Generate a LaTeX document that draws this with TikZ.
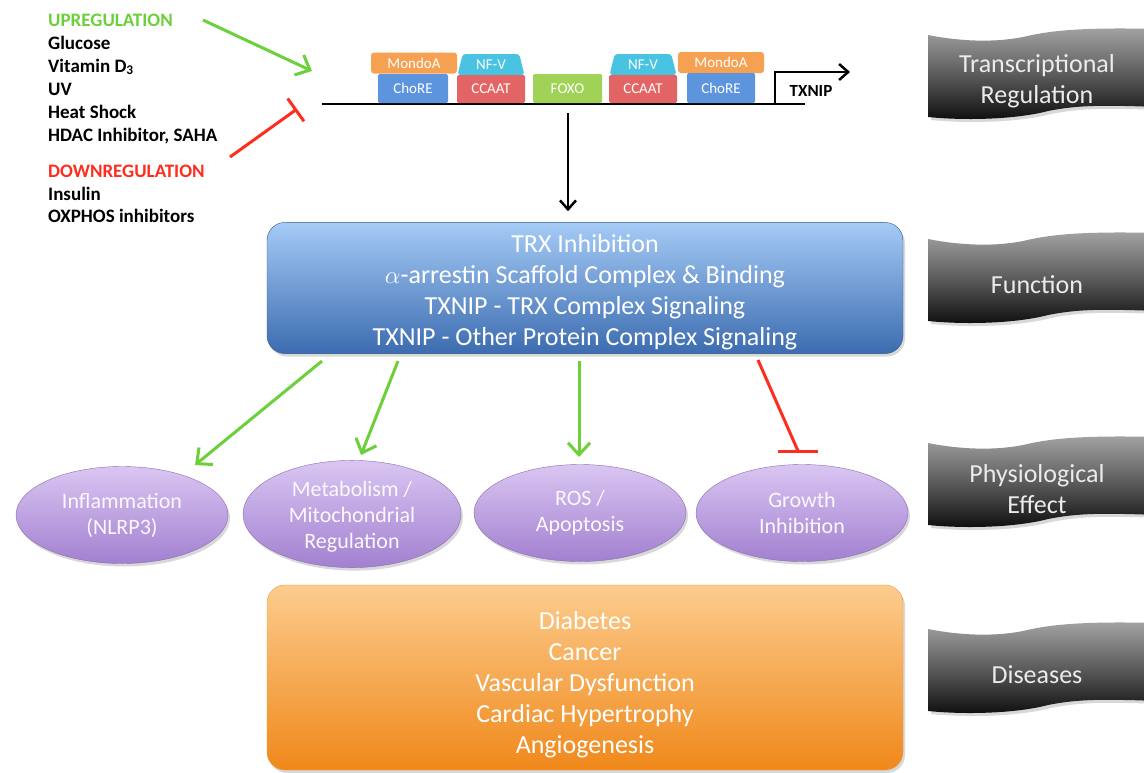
\documentclass[tikz,border=0pt]{standalone}
\usepackage{fontspec}
\setmainfont{Carlito}
\usetikzlibrary{arrows.meta,shapes.geometric,shadows,positioning}

\definecolor{upgreen}{RGB}{108,208,58}
\definecolor{downred}{RGB}{255,45,30}
\definecolor{mondoa}{RGB}{246,160,82}
\definecolor{chore}{RGB}{92,148,222}
\definecolor{nfv}{RGB}{72,196,226}
\definecolor{ccaat}{RGB}{226,100,100}
\definecolor{foxo}{RGB}{160,210,88}
\definecolor{blueTop}{RGB}{165,203,246}
\definecolor{blueBot}{RGB}{60,108,176}
\definecolor{purpTop}{RGB}{218,198,242}
\definecolor{purpBot}{RGB}{162,128,208}
\definecolor{orTop}{RGB}{252,204,142}
\definecolor{orBot}{RGB}{240,136,26}

\tikzset{
  site/.style={rectangle, rounded corners=1.5, minimum width=68, minimum height=28, inner sep=0,
    text=white, font=\fontsize{15}{15}\selectfont},
  factor/.style={site, minimum height=21, rounded corners=3},
  heading/.style={anchor=base west, inner sep=0, font=\bfseries\fontsize{19}{23}\selectfont},
  stimulus/.style={heading, text=black},
  layerbox/.style={rectangle, rounded corners=18, minimum width=636, align=center, text=white,
    font=\fontsize{26}{31}\selectfont,
    drop shadow={opacity=0.3, shadow xshift=2pt, shadow yshift=-3pt}},
  effect/.style={ellipse, minimum width=212, minimum height=97, inner sep=0, align=center,
    text=white!88!purpTop, font=\fontsize{22}{26}\selectfont, draw=purpBot!85!black,
    top color=purpTop, bottom color=purpBot,
    drop shadow={opacity=0.3, shadow xshift=2pt, shadow yshift=-3pt}},
  bannertext/.style={align=center, text=white!92!black, font=\fontsize{26}{31}\selectfont},
  activ/.style={upgreen, line width=3, -{Straight Barb[length=12, width=22, line width=3]}},
  inhib/.style={downred, line width=3},
  dna/.style={black, line width=2.5}
}

\begin{document}
\begin{tikzpicture}[x=1pt,y=-1pt]
  \fill[white] (0,0) rectangle (1144,772);
  \useasboundingbox (0,0) rectangle (1144,772);

  % regulators
  \node[heading, text=upgreen] (upreg) at (48,26) {UPREGULATION};
  \foreach \t [count=\i] in {Glucose, Vitamin D\textsubscript{3}, UV, Heat Shock, {HDAC Inhibitor, SAHA}}
    \node[stimulus] (up\i) at (48,{49+23*(\i-1)}) {\t};
  \node[heading, text=downred] (downreg) at (48,177) {DOWNREGULATION};
  \foreach \t [count=\i] in {Insulin, OXPHOS inhibitors}
    \node[stimulus] (down\i) at (48,{200+22*(\i-1)}) {\t};

  % promoter
  \coordinate (dnaL) at (322,104);
  \coordinate (dnaR) at (805,104);
  \draw[dna] (dnaL) -- (dnaR);
  \node[factor, fill=mondoa, minimum width=86] (mondoL) at (414,63) {MondoA};
  \node[site, fill=chore, minimum width=70, minimum height=29] (choreL) at (413,88.5) {ChoRE};
  \node[factor, fill=nfv, trapezium, trapezium stretches=true, trapezium angle=74,
    minimum width=67] (nfvL) at (491,64.5) {NF-V};
  \node[site, fill=ccaat] (ccaatL) at (491,89) {CCAAT};
  \node[site, fill=foxo, minimum width=69, minimum height=29] (foxo) at (567.5,88.5) {FOXO};
  \node[factor, fill=nfv, trapezium, trapezium stretches=true, trapezium angle=74,
    minimum width=67] (nfvR) at (643,64.5) {NF-V};
  \node[site, fill=ccaat] (ccaatR) at (643,89) {CCAAT};
  \node[factor, fill=mondoa, minimum width=86] (mondoR) at (721,62.5) {MondoA};
  \node[site, fill=chore, minimum width=68, minimum height=30] (choreR) at (721,88) {ChoRE};
  \coordinate (tss) at (775,104);
  \coordinate (tssEnd) at (850,72);
  \draw[dna, -{Straight Barb[length=9, width=16, line width=2.5]}] (tss) |- (tssEnd);
  \node[anchor=base, inner sep=0, font=\bfseries\fontsize{17}{17}\selectfont] (txnip) at (811,96) {TXNIP};

  \coordinate (upFrom) at (203,20);
  \coordinate (upTo) at (312,71);
  \draw[activ] (upFrom) -- (upTo);
  \coordinate (downFrom) at (230,157);
  \coordinate (downTo) at (297,109);
  \draw[inhib, -{Bar[width=28, line width=3]}] (downFrom) -- (downTo);

  % function
  \node[layerbox, top color=blueTop, bottom color=blueBot, draw=blueBot!80!black, minimum height=128]
    (func) at (585,288) {\rule{0pt}{27pt}TRX Inhibition\\$\alpha$-arrestin Scaffold Complex \& Binding\\
      TXNIP - TRX Complex Signaling\\TXNIP - Other Protein Complex Signaling};
  \coordinate (dnaOut) at (568,113);
  \draw[dna, shorten >=11, -{Straight Barb[length=9, width=16, line width=2.5]}] (dnaOut) -- (dnaOut |- func.north);

  % physiological effects
  \node[effect] (infl) at (122,515) {Inflammation\\(NLRP3)};
  \node[effect, minimum width=218] (meta) at (352,514) {\rule{0pt}{20pt}Metabolism /\\Mitochondrial\\Regulation};
  \node[effect] (ros) at (580,513) {ROS /\\Apoptosis};
  \node[effect] (grow) at (802,513) {Growth\\Inhibition};

  \coordinate (fx1) at (322,361);
  \coordinate (fx2) at (398,361);
  \coordinate (fx3) at (579,361);
  \coordinate (fx4) at (758,360);
  \coordinate (ex1) at (195,465);
  \coordinate (ex2) at (361,455);
  \coordinate (ex3) at (579,457);
  \coordinate (ex4) at (798,451);
  \draw[activ] (fx1) -- (ex1);
  \draw[activ] (fx2) -- (ex2);
  \draw[activ] (fx3) -- (ex3);
  \draw[inhib] (fx4) -- (ex4);
  \draw[inhib] ([xshift=-20]ex4) -- ([xshift=20]ex4);

  % diseases
  \node[layerbox, top color=orTop, bottom color=orBot, draw=orBot!85!white, minimum height=185]
    (dis) at (585,677.5) {\rule{0pt}{32pt}Diabetes\\Cancer\\Vascular Dysfunction\\Cardiac Hypertrophy\\Angiogenesis};

  % level banners
  \foreach \yc/\txt [count=\i] in {77/{Transcriptional\\Regulation}, 281/Function,
      485/{Physiological\\Effect}, 671/Diseases}{
    \shade[top color=black!36, bottom color=black!95, middle color=black!64,
      drop shadow={opacity=0.3, shadow xshift=3pt, shadow yshift=-3pt}, shift={(928,\yc)}]
      (0,-42) .. controls (30,-36) and (65,-34) .. (95,-40) .. controls (120,-46) and (150,-50) .. (230,-48)
      -- (230,30) .. controls (175,28) and (150,28) .. (120,34) .. controls (90,42) and (40,44) .. (0,40) -- cycle;
    \node[bannertext] (band\i) at (1037,{\yc+4}) {\txt};
  }
\end{tikzpicture}
\end{document}
